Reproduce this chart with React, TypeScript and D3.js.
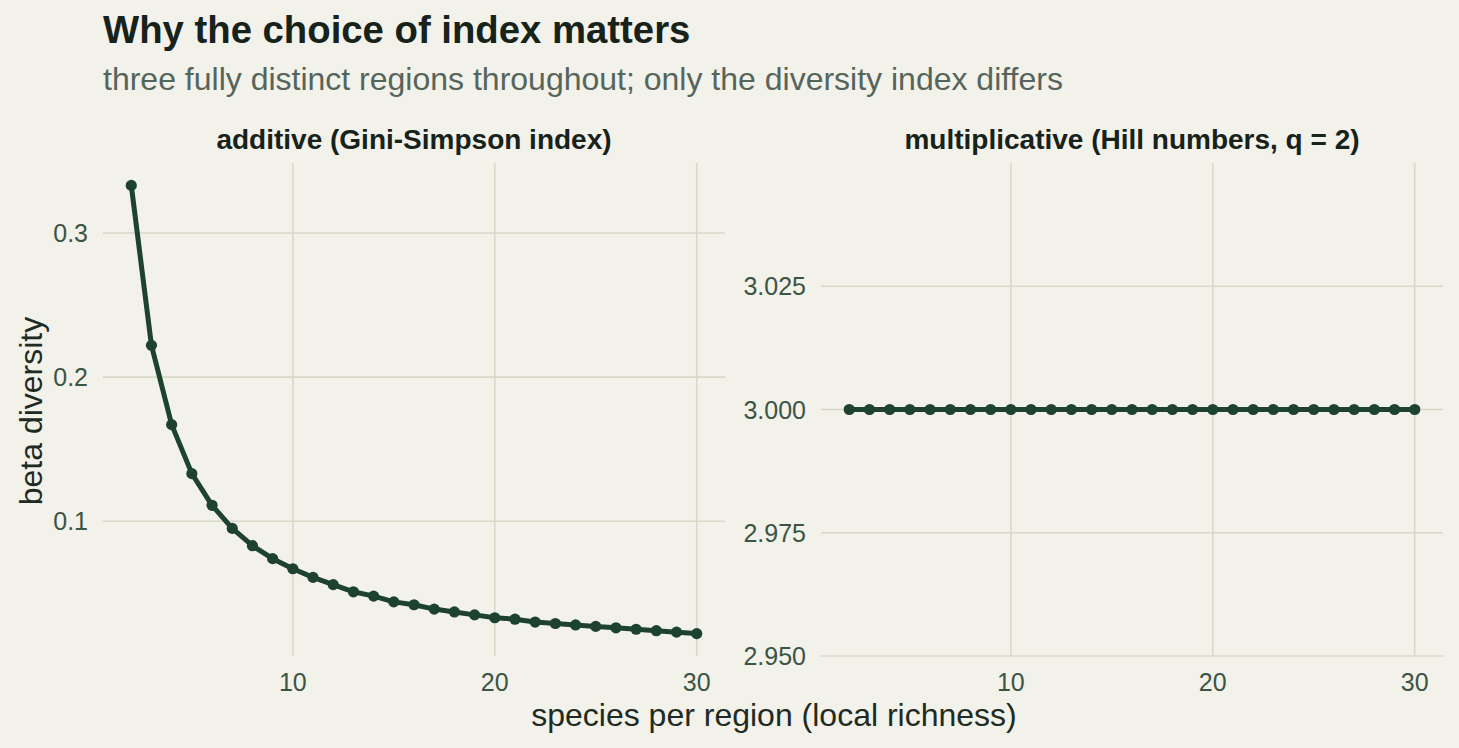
import React, { useRef, useEffect } from "react";
import * as d3 from "d3";

// species per region (local richness)
const richness = [2, 3, 4, 5, 6, 7, 8, 9, 10, 11, 12, 13, 14, 15, 16, 17, 18, 19, 20, 21, 22, 23, 24, 25, 26, 27, 28, 29, 30];

// beta diversity, additive partition of Gini-Simpson
const additiveBeta = [
  0.333, 0.222, 0.167, 0.133, 0.111, 0.095, 0.083, 0.074, 0.067, 0.061,
  0.056, 0.051, 0.048, 0.044, 0.042, 0.039, 0.037, 0.035, 0.033, 0.032,
  0.030, 0.029, 0.028, 0.027, 0.026, 0.025, 0.024, 0.023, 0.022,
];

// beta diversity, multiplicative partition of Hill numbers (q = 2)
const hillBeta = [
  3, 3, 3, 3, 3, 3, 3, 3, 3, 3, 3, 3, 3, 3, 3, 3, 3, 3, 3, 3,
  3, 3, 3, 3, 3, 3, 3, 3, 3,
];

const xTicks = [10, 20, 30];
const additiveTicks = [0.1, 0.2, 0.3];
const hillTicks = [2.95, 2.975, 3.0, 3.025];

const panelTitles = ["additive (Gini-Simpson index)", "multiplicative (Hill numbers, q = 2)"];

const W = 1459;
const H = 748;
const BG = "#f2f1ea";
const GRID = "#d9d9c8";
const INK = "#1e4230";
const TICK = "#3b5444";
const FONT = "'Liberation Sans', Arial, Helvetica, sans-serif";

function App() {
  const svgRef = useRef<SVGSVGElement>(null);

  useEffect(() => {
    const svg = d3.select(svgRef.current);
    svg.selectAll("*").remove();

    svg.append("rect").attr("width", W).attr("height", H).attr("fill", BG);

    // Titles
    svg.append("text")
      .attr("x", 103).attr("y", 43)
      .attr("font-size", 38.3).attr("font-weight", "bold")
      .attr("fill", "#16221a")
      .text("Why the choice of index matters");
    svg.append("text")
      .attr("x", 103).attr("y", 90)
      .attr("font-size", 32)
      .attr("fill", "#56655b")
      .text("three fully distinct regions throughout; only the diversity index differs");

    const top = 163;
    const bottom = 656;

    const panels = [
      {
        left: 103, right: 725,
        values: additiveBeta,
        yDomain: (() => {
          const [lo, hi] = d3.extent(additiveBeta) as [number, number];
          const pad = (hi - lo) * 0.05;
          return [lo - pad, hi + pad];
        })(),
        ticks: additiveTicks,
        fmt: d3.format(".1f"),
      },
      {
        left: 821, right: 1443,
        values: hillBeta,
        yDomain: [2.95, 3.05],
        ticks: hillTicks,
        fmt: d3.format(".3f"),
      },
    ];

    const xDomain = (() => {
      const [lo, hi] = d3.extent(richness) as [number, number];
      const pad = (hi - lo) * 0.05;
      return [lo - pad, hi + pad];
    })();

    panels.forEach((p, i) => {
      const x = d3.scaleLinear().domain(xDomain).range([p.left, p.right]);
      const y = d3.scaleLinear().domain(p.yDomain).range([bottom, top]);
      const g = svg.append("g");

      // Grid
      g.selectAll(".vgrid")
        .data(xTicks)
        .join("line")
        .attr("x1", d => x(d)).attr("x2", d => x(d))
        .attr("y1", top).attr("y2", bottom)
        .attr("stroke", GRID).attr("stroke-width", 1.6);
      g.selectAll(".hgrid")
        .data(p.ticks)
        .join("line")
        .attr("x1", p.left).attr("x2", p.right)
        .attr("y1", d => y(d)).attr("y2", d => y(d))
        .attr("stroke", GRID).attr("stroke-width", 1.6);

      // Tick labels
      g.selectAll(".xlab")
        .data(xTicks)
        .join("text")
        .attr("x", d => x(d)).attr("y", 691)
        .attr("text-anchor", "middle")
        .attr("font-size", 25).attr("fill", TICK)
        .text(d => d);
      g.selectAll(".ylab")
        .data(p.ticks)
        .join("text")
        .attr("x", p.left - 15).attr("y", d => y(d))
        .attr("dy", "0.36em")
        .attr("text-anchor", "end")
        .attr("font-size", 25).attr("fill", TICK)
        .text(d => p.fmt(d));

      // Strip title
      g.append("text")
        .attr("x", (p.left + p.right) / 2).attr("y", 149)
        .attr("text-anchor", "middle")
        .attr("font-size", 28).attr("font-weight", "bold")
        .attr("fill", "#16221a")
        .text(panelTitles[i]);

      // Series
      const pts = richness.map((r, k) => [r, p.values[k]] as [number, number]);
      const line = d3.line<[number, number]>().x(d => x(d[0])).y(d => y(d[1]));
      g.append("path")
        .attr("d", line(pts))
        .attr("fill", "none")
        .attr("stroke", INK).attr("stroke-width", 5)
        .attr("stroke-linejoin", "round");
      g.selectAll(".pt")
        .data(pts)
        .join("circle")
        .attr("cx", d => x(d[0])).attr("cy", d => y(d[1]))
        .attr("r", 5.6)
        .attr("fill", INK);
    });

    // Axis titles
    svg.append("text")
      .attr("x", 774).attr("y", 726)
      .attr("text-anchor", "middle")
      .attr("font-size", 32).attr("fill", "#1e2b22")
      .text("species per region (local richness)");
    svg.append("text")
      .attr("transform", "translate(42, 411) rotate(-90)")
      .attr("text-anchor", "middle")
      .attr("font-size", 32).attr("fill", "#1e2b22")
      .text("beta diversity");
  }, []);

  return (
    <svg
      ref={svgRef}
      width={W}
      height={H}
      style={{ position: "absolute", left: 0, top: 0, display: "block", fontFamily: FONT }}
    ></svg>
  );
}

export default App;
